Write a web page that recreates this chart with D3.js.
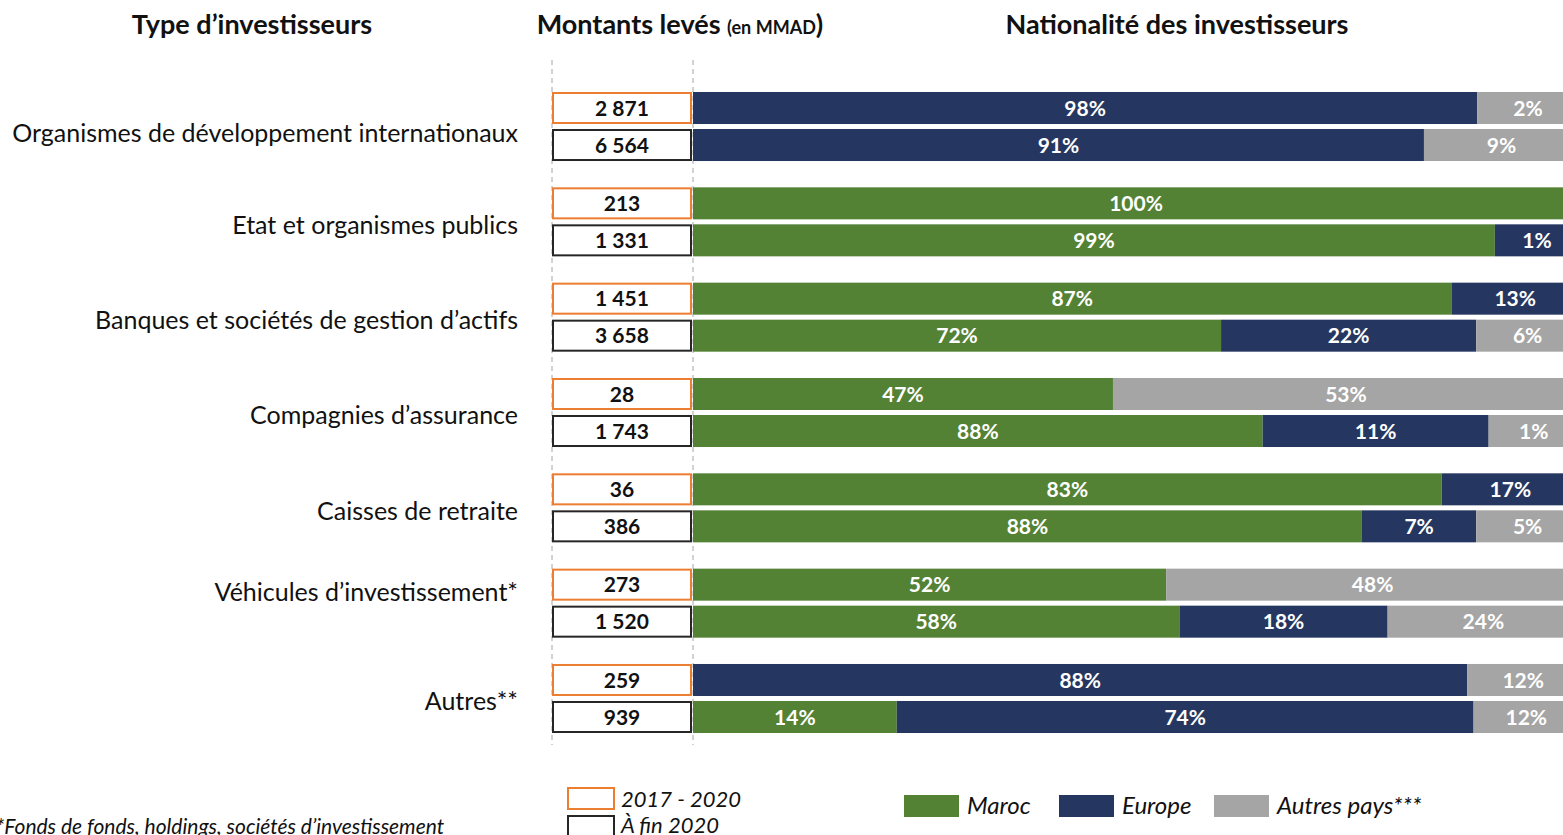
<!DOCTYPE html>
<html>
<head>
<meta charset="utf-8">
<script src="https://cdn.jsdelivr.net/npm/d3@7"></script>
<style>
  body { margin: 0; background: #fff; }
  svg { display: block; font-family: Lato, "Open Sans", sans-serif; overflow: hidden; }
</style>
</head>
<body>
<svg id="mainsvg" width="1563" height="835"></svg>
<script>
// données
const categories = [
  'Organismes de développement internationaux',
  'Etat et organismes publics',
  'Banques et sociétés de gestion d\u2019actifs',
  'Compagnies d\u2019assurance',
  'Caisses de retraite',
  'Véhicules d\u2019investissement*',
  'Autres**'
];
const periodes = ['2017 - 2020', 'À fin 2020'];
const montants2017 = ['2 871', '213', '1 451', '28', '36', '273', '259'];
const montantsFin2020 = ['6 564', '1 331', '3 658', '1 743', '386', '1 520', '939'];
const origines = ['Maroc', 'Europe', 'Autres pays***'];

// pourcentages affichés [Maroc, Europe, Autres]
const pct2017 = [
  [0, 98, 2], [100, 0, 0], [87, 13, 0], [47, 0, 53], [83, 17, 0], [52, 0, 48], [0, 88, 12]
];
const pctFin2020 = [
  [0, 91, 9], [99, 1, 0], [72, 22, 6], [88, 11, 1], [88, 7, 5], [58, 18, 24], [14, 74, 12]
];
// largeurs des segments telles que dessinées dans l'original (%)
const larg2017 = [
  [0, 88.5, 11.5], [100, 0, 0], [85.6, 14.4, 0], [47.4, 0, 52.6], [84.5, 15.5, 0], [53.4, 0, 46.6], [0, 87.4, 12.6]
];
const largFin2020 = [
  [0, 82.5, 17.5], [90.5, 9.5, 0], [59.6, 28.8, 11.6], [64.3, 25.5, 10.2], [75.5, 12.9, 11.6], [54.9, 23.5, 21.6], [23, 65.1, 11.9]
];

const colors = { 'Maroc': '#548235', 'Europe': '#253760', 'Autres pays***': '#a5a5a5' };
const boxColors = ['#ed7d31', '#262626'];

const svg = d3.select('#mainsvg');

const yGroup = d3.scaleBand()
  .domain(categories)
  .range([92, 733])
  .paddingInner(0.276)
  .paddingOuter(0);

const yRow = d3.scaleBand()
  .domain(periodes)
  .range([0, yGroup.bandwidth()])
  .paddingInner(0.135);

// la barre déborde à droite de l'image (coupée comme dans l'original)
const xScale = d3.scaleLinear().domain([0, 100]).range([693, 1579]);
const boxX = 552, boxW = 140;

// titres
const titles = svg.append('g').attr('font-weight', 700).attr('font-size', 27).attr('fill', '#111');
titles.append('text').attr('x', 252).attr('y', 34).attr('text-anchor', 'middle').text('Type d\u2019investisseurs');
const t2 = titles.append('text').attr('x', 680).attr('y', 34).attr('text-anchor', 'middle');
t2.append('tspan').text('Montants levés ');
t2.append('tspan').attr('font-size', 18).text('(en MMAD');
t2.append('tspan').text(')');
titles.append('text').attr('x', 1177).attr('y', 34).attr('text-anchor', 'middle').text('Nationalité des investisseurs');

// lignes pointillées
svg.selectAll('.guide').data([boxX, boxX + boxW + 1])
  .join('line').attr('class', 'guide')
  .attr('x1', d => d).attr('x2', d => d)
  .attr('y1', 60).attr('y2', 745)
  .attr('stroke', '#a6a6a6').attr('stroke-width', 1).attr('stroke-dasharray', '5,4');

// libellés des catégories
const labelY = (d, i) => {
  if (i === 5) return yGroup(d) + 24;
  if (i === 0) return yGroup(d) + yGroup.bandwidth() / 2 + 7;
  return yGroup(d) + yGroup.bandwidth() / 2 + 3;
};
svg.selectAll('.cat').data(categories)
  .join('text').attr('class', 'cat')
  .attr('x', 518).attr('y', labelY)
  .attr('dy', '0.35em')
  .attr('text-anchor', 'end')
  .attr('font-size', 25)
  .attr('fill', '#111')
  .text(d => d);

// lignes de données
const rows = [];
categories.forEach((c, i) => {
  rows.push({ cat: c, per: periodes[0], montant: montants2017[i], pct: pct2017[i], larg: larg2017[i] });
  rows.push({ cat: c, per: periodes[1], montant: montantsFin2020[i], pct: pctFin2020[i], larg: largFin2020[i] });
});
const rowY = d => yGroup(d.cat) + yRow(d.per);

// boîtes des montants
const boxes = svg.selectAll('.box').data(rows).join('g').attr('class', 'box');
boxes.append('rect')
  .attr('x', boxX + 1).attr('y', d => rowY(d) + 1)
  .attr('width', boxW - 2).attr('height', yRow.bandwidth() - 2)
  .attr('fill', '#fff')
  .attr('stroke', d => boxColors[periodes.indexOf(d.per)])
  .attr('stroke-width', 2);
boxes.append('text')
  .attr('x', boxX + boxW / 2).attr('y', d => rowY(d) + yRow.bandwidth() / 2)
  .attr('dy', '0.36em').attr('text-anchor', 'middle')
  .attr('font-size', 21).attr('font-weight', 700).attr('fill', '#111')
  .text(d => d.montant);

// segments empilés
const segs = [];
rows.forEach(r => {
  let acc = 0;
  origines.forEach((o, k) => {
    if (r.larg[k] > 0) segs.push({ row: r, origine: o, x0: acc, x1: acc + r.larg[k], pct: r.pct[k] });
    acc += r.larg[k];
  });
});
const segG = svg.append('g');
segG.selectAll('rect').data(segs).join('rect')
  .attr('x', d => xScale(d.x0))
  .attr('y', d => rowY(d.row))
  .attr('width', d => xScale(d.x1) - xScale(d.x0))
  .attr('height', yRow.bandwidth())
  .attr('fill', d => colors[d.origine]);
segG.selectAll('text').data(segs).join('text')
  .attr('x', d => (xScale(d.x0) + xScale(d.x1)) / 2)
  .attr('y', d => rowY(d.row) + yRow.bandwidth() / 2)
  .attr('dy', '0.36em').attr('text-anchor', 'middle')
  .attr('font-size', 21).attr('font-weight', 700).attr('fill', '#fff')
  .text(d => d.pct + '%');

// légende des périodes
const legP = svg.append('g');
periodes.forEach((p, i) => {
  legP.append('rect').attr('x', 568).attr('y', 788 + i * 28).attr('width', 46).attr('height', 21)
    .attr('fill', '#fff').attr('stroke', boxColors[i]).attr('stroke-width', 2);
  legP.append('text').attr('x', 621).attr('y', 799 + i * 26).attr('dy', '0.35em')
    .attr('font-size', 22).attr('font-style', 'italic').attr('fill', '#111').text(p);
});

// légende des origines
const legX = [904, 1059, 1214];
origines.forEach((o, i) => {
  svg.append('rect').attr('x', legX[i]).attr('y', 795).attr('width', 55).attr('height', 22).attr('fill', colors[o]);
  svg.append('text').attr('x', legX[i] + 63).attr('y', 806).attr('dy', '0.35em')
    .attr('font-size', 24).attr('font-style', 'italic').attr('fill', '#111').text(o);
});

// note
svg.append('text').attr('x', -4).attr('y', 834)
  .attr('font-size', 21).attr('font-style', 'italic').attr('fill', '#111')
  .text('*Fonds de fonds, holdings, sociétés d\u2019investissement');
</script>
</body>
</html>
